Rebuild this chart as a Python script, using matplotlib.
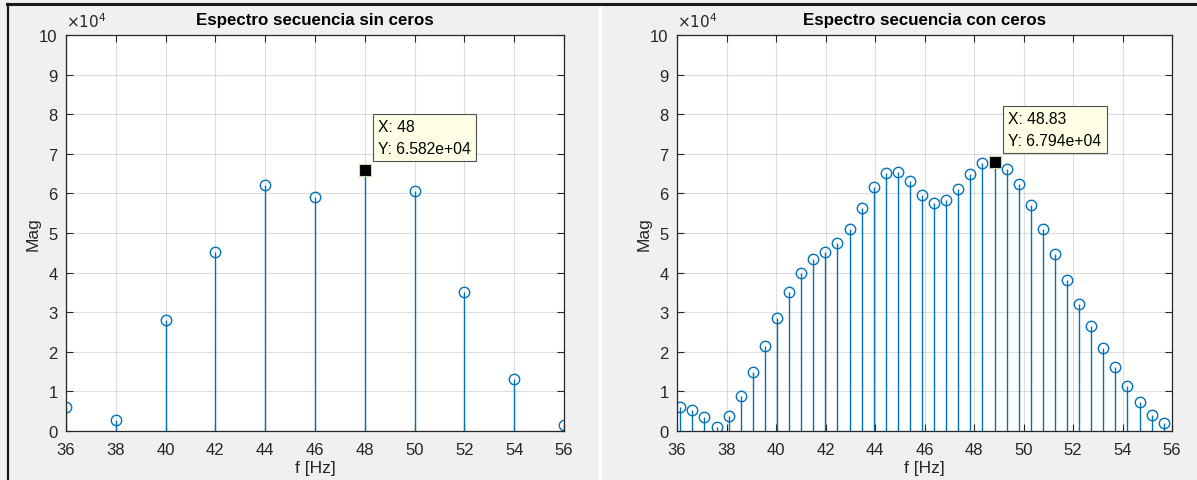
import matplotlib.pyplot as plt
from matplotlib.lines import Line2D
from matplotlib.patches import Rectangle
from matplotlib.ticker import FuncFormatter

plt.rcParams['font.family'] = ['Liberation Sans', 'DejaVu Sans']

# spectrum without zero padding (2 Hz resolution)
f_sin = [36, 38, 40, 42, 44, 46, 48, 50, 52, 54, 56]
mag_sin = [6100, 2900, 28000, 45200, 62000, 59100, 65820, 60600, 35200, 13100, 1400]

# spectrum with zero padding (~0.488 Hz resolution)
f_con = [36.13, 36.62, 37.11, 37.60, 38.09, 38.57, 39.06, 39.55, 40.04, 40.53,
         41.02, 41.50, 41.99, 42.48, 42.97, 43.46, 43.95, 44.43, 44.92, 45.41,
         45.90, 46.39, 46.88, 47.36, 47.85, 48.34, 48.83, 49.32, 49.80, 50.29,
         50.78, 51.27, 51.76, 52.25, 52.73, 53.22, 53.71, 54.20, 54.69, 55.18,
         55.66]
mag_con = [6100, 5200, 3500, 900, 3800, 8800, 14900, 21500, 28500, 35000,
           39800, 43500, 45200, 47500, 51000, 56200, 61700, 65200, 65500, 63200,
           59600, 57600, 58400, 61200, 65000, 67700, 67940, 66100, 62300, 57100,
           51000, 44600, 38200, 32100, 26500, 21000, 16100, 11400, 7300, 4100,
           2100]

titles = ["Espectro secuencia sin ceros", "Espectro secuencia con ceros"]
tips = [(48, 65820, "X: 48\nY: 6.582e+04"), (48.83, 67940, "X: 48.83\nY: 6.794e+04")]
tip_pos = [(378, 120), (1008, 112)]  # pixel top-left of datatip text

W, H = 1197, 481
fig = plt.figure(figsize=(W / 100, H / 100), dpi=100)
fig.patch.set_facecolor('#f0f0f0')

# panel frame: top line, left line, white separator
fig.add_artist(Line2D([7 / W, 1], [1 - 5 / H, 1 - 5 / H], color='#1a1a1a', lw=2.2))
fig.add_artist(Line2D([7.5 / W, 7.5 / W], [0, 1 - 5 / H], color='#1a1a1a', lw=1.6))
fig.add_artist(Rectangle((599 / W, 0), 3 / W, 1 - 6 / H, color='white', lw=0))

blue = '#0072BD'
dark = '#262626'
axes_px = [(66, 564), (677, 1172)]

for i, (xs, ys) in enumerate([(f_sin, mag_sin), (f_con, mag_con)]):
    x0, x1 = axes_px[i]
    ax = fig.add_axes([x0 / W, (H - 432) / H, (x1 - x0) / W, (432 - 36) / H])
    ml, sl, bl = ax.stem(xs, ys, basefmt=' ')
    plt.setp(sl, color=blue, linewidth=1.0)
    plt.setp(ml, marker='o', markerfacecolor='none', markeredgecolor=blue,
             markersize=7.5, markeredgewidth=1.0)

    tx, ty, ttxt = tips[i]
    ax.plot([tx], [ty], marker='s', color='black', markersize=8.5,
            markeredgecolor='#d8d0a8', markeredgewidth=0.8, zorder=5, clip_on=False)

    ax.set_xlim(36, 56)
    ax.set_ylim(0, 100000)
    ax.set_xticks(range(36, 57, 2))
    ax.set_yticks(range(0, 100001, 10000))
    ax.yaxis.set_major_formatter(FuncFormatter(lambda v, p: f"{v / 1e4:g}"))
    ax.grid(True, color=dark, alpha=0.15, linewidth=0.8)
    ax.set_axisbelow(True)
    ax.tick_params(direction='in', length=5, width=0.8, top=True, right=True,
                   labelsize=12, colors=dark, pad=6)
    ax.tick_params(axis='x', pad=8)
    for s in ax.spines.values():
        s.set_color(dark)
        s.set_linewidth(0.9)
    ax.set_title(titles[i], fontsize=12.2, fontweight='bold', color='black', pad=8)
    ax.set_xlabel("f [Hz]", fontsize=12.5, color=dark, labelpad=2)
    ax.set_ylabel("Mag", fontsize=12.5, color=dark, labelpad=-1)
    ax.text(0.0, 1.012, r"$\times10^{4}$", transform=ax.transAxes, ha='left',
            va='bottom', fontsize=11, color=dark)

    bx, by = tip_pos[i]
    fig.text(bx / W, 1 - by / H, ttxt, ha='left', va='top', fontsize=11.3,
             color='black', linespacing=1.55,
             bbox=dict(boxstyle='square,pad=0.35', facecolor='#ffffe6',
                       edgecolor='#505050', linewidth=0.8))

fig.savefig("out.png", dpi=100, facecolor=fig.get_facecolor())
